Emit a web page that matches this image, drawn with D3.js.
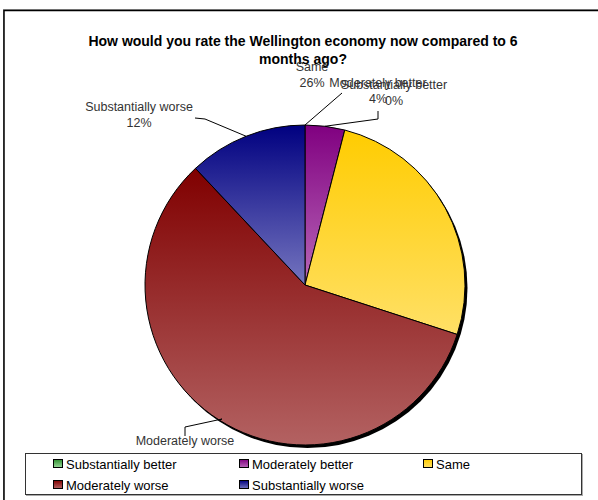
<!DOCTYPE html>
<html>
<head>
<meta charset="utf-8">
<script src="https://cdn.jsdelivr.net/npm/d3@7"></script>
<style>
  html, body { margin: 0; padding: 0; background: #fff; }
  svg { display: block; }
  text { font-family: "Liberation Sans", Arial, sans-serif; }
</style>
</head>
<body>
<svg id="chart" width="598" height="500"></svg>
<script>
// Survey answers, in the order the slices run clockwise from 12 o'clock
const categories = ["Substantially better", "Moderately better", "Same", "Moderately worse", "Substantially worse"];
const shares = [0, 4, 26, 58, 12];
const topColors = ["#2f8f2f", "#800080", "#ffcc00", "#800000", "#000080"];
const bottomColors = ["#9ad89a", "#b868b8", "#ffe066", "#b36262", "#7575bf"];
const titleLines = ["How would you rate the Wellington economy now compared to 6", "months ago?"];

const svg = d3.select("#chart");
const W = 598, H = 500;
const cx = 305, cy = 285, R = 160;

// chart frame
svg.append("rect").attr("x", 3.5).attr("y", 9.5).attr("width", W + 10).attr("height", H + 10)
  .attr("fill", "none").attr("stroke", "#999").attr("stroke-width", 1);
svg.append("rect").attr("x", 4).attr("y", 10.5).attr("width", W + 10).attr("height", H + 10)
  .attr("fill", "#fff").attr("stroke", "#000").attr("stroke-width", 1.5);

// title
svg.append("g").selectAll("text").data(titleLines).join("text")
  .attr("x", 303).attr("y", (d, i) => 46 + i * 18)
  .attr("text-anchor", "middle").attr("font-weight", "bold").attr("font-size", 14)
  .attr("fill", "#000").text(d => d);

// vertical gradients per slice
const defs = svg.append("defs");
categories.forEach((c, i) => {
  const g = defs.append("linearGradient").attr("id", "grad" + i)
    .attr("x1", 0).attr("y1", 0).attr("x2", 0).attr("y2", 1);
  g.append("stop").attr("offset", "0%").attr("stop-color", topColors[i]);
  g.append("stop").attr("offset", "100%").attr("stop-color", bottomColors[i]);
});

const pie = d3.pie().sort(null).value(d => d)(shares);
const arc = d3.arc().innerRadius(0).outerRadius(R);

const pg = svg.append("g").attr("transform", `translate(${cx},${cy})`);
// drop shadow under the pie
pg.append("circle").attr("cx", 2.5).attr("cy", 3).attr("r", R).attr("fill", "#000");
pg.selectAll("path.slice").data(pie).join("path").attr("class", "slice")
  .attr("d", arc)
  .attr("fill", (d, i) => `url(#grad${i})`)
  .attr("stroke", "#000").attr("stroke-width", 1).attr("stroke-linejoin", "round");

// data labels: name + percent, with leader lines from the slice edge
const labelSpec = [
  { dx: 89, dy: -196, leader: [[37, -192]] },            // Substantially better
  { dx: 73, dy: -198, leader: [[73, -166], [73, -174]] }, // Moderately better
  { dx: 7, dy: -214, leader: null },                      // Same
  { dx: -120, dy: 160, leader: [[-83, 134], [-120, 142], [-120, 151]] }, // Moderately worse
  { dx: -166, dy: -174, leader: [[-100, -166], [-110, -167]] }           // Substantially worse
];
const lab = svg.append("g").attr("fill", "#333").attr("font-size", 12.5);
pie.forEach((d, i) => {
  const s = labelSpec[i];
  const mid = (d.startAngle + d.endAngle) / 2;
  const p0 = [R * Math.sin(mid), -R * Math.cos(mid)];
  if (s.leader) {
    const pts = [p0].concat(s.leader).map(p => [p[0] + cx, p[1] + cy]);
    svg.append("path").attr("d", d3.line()(pts)).attr("fill", "none")
      .attr("stroke", "#000").attr("stroke-width", 1);
  }
  const pct = Math.round(d.value) + "%";
  const lines = i === 3 ? [categories[i]] : [categories[i], pct];
  lab.append("g").selectAll("text").data(lines).join("text")
    .attr("x", cx + s.dx).attr("y", (t, k) => cy + s.dy + k * 16)
    .attr("text-anchor", "middle").text(t => t);
});

// legend
const lgX = 25, lgY = 453, lgW = 556, lgH = 41;
svg.append("rect").attr("x", lgX + 1.5).attr("y", lgY + 1.5).attr("width", lgW).attr("height", lgH)
  .attr("fill", "none").attr("stroke", "#aaa").attr("stroke-width", 1);
svg.append("rect").attr("x", lgX + 0.5).attr("y", lgY + 0.5).attr("width", lgW).attr("height", lgH)
  .attr("fill", "#fff").attr("stroke", "#333").attr("stroke-width", 1);
const colX = [53, 239, 423];
const rowY = [464, 485];
const items = svg.append("g").selectAll("g").data(categories).join("g")
  .attr("transform", (d, i) => `translate(${colX[i % 3]},${rowY[Math.floor(i / 3)]})`);
items.append("rect").attr("x", 0.5).attr("y", -4.5).attr("width", 9).attr("height", 8)
  .attr("fill", (d, i) => `url(#grad${i})`).attr("stroke", "#000").attr("stroke-width", 1);
items.append("text").attr("x", 13).attr("y", 4.5).attr("font-size", 13).attr("fill", "#000")
  .text(d => d);
</script>
</body>
</html>
